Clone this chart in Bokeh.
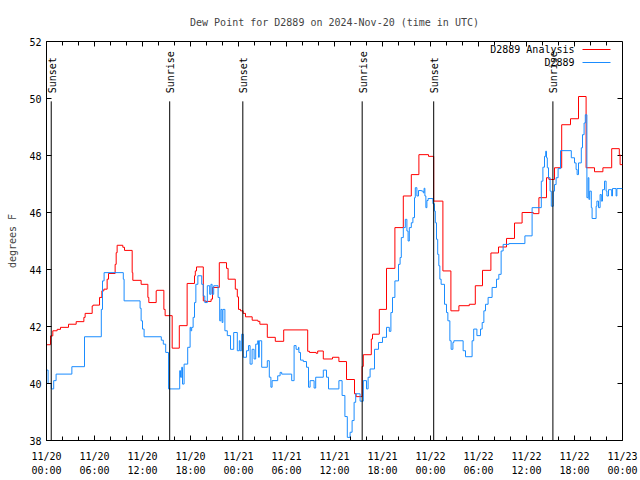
import math
from bokeh.plotting import figure
from bokeh.models import Range1d, FixedTicker, Label, Arrow
from bokeh.embed import file_html
from bokeh.resources import INLINE
from bokeh.core.properties import value

FONT = "DejaVu Sans Mono"

# Hours since 2024-11-20 00:00 UTC (step "after") and dew point values (F)
analysis_hours = [0.0, 0.5, 0.79, 1.33, 1.75, 2.75, 3.71, 4.67, 4.83, 5.71, 5.83, 6.63, 6.92, 7.17,
                  7.58, 7.75, 8.58, 8.71, 8.83, 9.54, 9.75, 10.71, 10.79, 11.83, 12.67, 12.79, 13.71,
                  13.79, 14.67, 14.83, 15.71, 16.6, 17.58, 18.5, 18.6, 18.75, 19.6, 19.875, 20.58,
                  20.75, 21.6, 22.5, 22.7, 23.6, 23.85, 24.0, 24.25, 24.58, 24.875, 25.71, 26.42,
                  26.67, 27.6, 28.6, 29.65, 32.65, 32.875, 33.7, 33.9, 34.6, 35.75, 36.55, 37.5,
                  38.5, 38.7, 39.45, 39.6, 40.6, 40.75, 41.6, 42.5, 43.55, 44.6, 45.6, 46.55, 47.75,
                  48.4, 49.55, 50.55, 51.55, 52.85, 53.6, 54.5, 55.55, 56.5, 57.5, 58.5, 59.45,
                  60.85, 61.55, 62.5, 62.8, 63.5, 64.4, 65.5, 66.5, 67.45, 68.5, 69.55, 70.65,
                  71.6, 71.7]
analysis_values = [41.36, 41.67, 41.85, 41.9, 41.97, 42.08, 42.17, 42.32, 42.46, 42.72, 42.75, 43.02,
                   43.25, 43.31, 43.66, 43.86, 44.18, 44.59, 44.85, 44.78, 44.67, 43.89, 43.62, 43.48,
                   43.02, 42.84, 43.25, 43.27, 42.6, 42.38, 41.24, 42.03, 43.51, 43.78, 43.95, 44.09,
                   42.9, 42.88, 42.96, 43.37, 44.24, 44.04, 43.66, 43.31, 43.04, 42.6, 42.55, 42.46,
                   42.34, 42.22, 42.18, 42.08, 41.62, 41.48, 41.88, 41.13, 41.09, 41.06, 41.14, 40.86,
                   40.92, 40.77, 40.14, 39.64, 39.54, 40.6, 41.01, 41.56, 41.73, 42.6, 44.04, 45.47,
                   46.58, 47.33, 48.03, 47.97, 46.4, 43.95, 42.55, 42.73, 42.78, 43.43, 43.97, 44.58,
                   44.79, 45.09, 45.63, 46.0, 45.96, 46.52, 47.22, 47.16, 47.57, 49.08, 49.29, 50.07,
                   47.57, 47.43, 47.57, 48.24, 48.03, 47.68]

station_hours = [0.0, 0.2, 0.6, 0.9, 1.2, 3.17, 4.75, 6.85, 7.0, 7.2, 9.6, 9.7, 11.7, 11.83, 12.0, 12.2,
                 14.35, 14.6, 14.9, 15.25, 16.65, 16.75, 16.9, 17.0, 17.2, 17.65, 17.95, 18.05, 18.15,
                 18.33, 18.5, 18.67, 18.92, 19.4, 19.6, 19.79, 20.1, 20.4, 20.55, 20.7, 20.9, 21.45,
                 21.65, 21.8, 21.95, 22.05, 22.3, 22.6, 23.0, 23.4, 23.85, 24.1, 24.2, 24.4, 24.6, 25.0,
                 25.25, 25.45, 25.7, 25.95, 26.15, 26.4, 26.5, 26.6, 26.9, 27.6, 27.85, 28.05, 28.2,
                 28.9, 29.2, 29.4, 30.65, 30.95, 31.2, 31.5, 31.55, 31.75, 32.1, 32.5, 32.75, 32.95,
                 33.45, 33.65, 34.6, 35.0, 35.25, 36.55, 36.95, 37.3, 37.6, 37.95, 38.2, 38.45, 38.65,
                 39.2, 39.6, 40.0, 40.2, 40.45, 41.0, 41.5, 42.0, 42.5, 42.85, 43.05, 43.25, 43.55,
                 44.0, 44.2, 44.35, 44.6, 44.85, 45.05, 45.2, 45.35, 45.6, 45.8, 46.0, 46.1, 46.3,
                 46.5, 46.9, 47.1, 47.2, 47.3, 47.42, 47.55, 47.7, 48.3, 48.5, 48.6, 48.75, 48.9,
                 49.04, 49.17, 49.33, 49.75, 50.0, 50.17, 50.42, 50.58, 50.8, 50.92, 52.08, 52.375,
                 53.2, 53.4, 53.8, 54.25, 54.46, 54.67, 54.875, 55.2, 55.7, 56.25, 56.54, 56.83,
                 57.08, 57.8, 59.8, 60.7, 61.85, 62.05, 62.25, 62.4, 62.5, 62.6, 62.75, 62.95, 63.1,
                 63.35, 63.5, 63.7, 63.95, 64.25, 65.6, 66.0, 66.2, 66.33, 66.5, 66.85, 67.0, 67.2,
                 67.35, 67.55, 67.7, 67.8, 67.9, 68.1, 68.2, 68.7, 68.8, 69.0, 69.2, 69.35, 69.5,
                 69.75, 69.95, 70.05, 70.25, 70.65, 70.75, 71.2, 71.3]
station_values = [40.47, 40.0, 39.81, 40.1, 40.33, 40.59, 41.64, 42.6, 43.6, 43.89, 43.66, 42.9, 42.64,
                  42.2, 41.91, 41.64, 41.52, 41.38, 41.09, 39.81, 40.45, 40.22, 40.57, 39.98, 40.68,
                  41.27, 41.97, 41.85, 41.97, 42.32, 42.84, 43.48, 43.78, 43.48, 43.07, 42.84, 43.43,
                  43.13, 43.48, 43.13, 43.43, 43.02, 42.2, 42.6, 42.14, 42.6, 41.85, 41.68, 41.2,
                  41.79, 41.15, 41.5, 41.15, 41.73, 40.92, 41.15, 41.33, 40.68, 41.2, 40.86, 41.38,
                  41.5, 40.92, 41.5, 40.57, 40.8, 40.22, 39.87, 40.1, 40.27, 40.39, 40.33, 40.1,
                  41.33, 41.2, 41.27, 41.09, 40.82, 40.77, 40.57, 39.87, 40.1, 39.84, 40.22, 40.47,
                  40.22, 39.81, 40.1, 39.58, 38.84, 38.11, 38.29, 38.7, 39.34, 39.64, 39.38, 40.1,
                  39.81, 40.22, 40.51, 41.2, 41.44, 41.62, 41.97, 41.83, 42.49, 43.02, 43.6, 44.18,
                  44.42, 45.12, 45.47, 45.76, 45.35, 45.0, 45.47, 45.64, 45.82, 46.52, 46.87, 46.58,
                  46.77, 46.75, 46.69, 46.85, 46.58, 46.17, 46.42, 46.49, 46.31, 46.05, 45.64, 45.06,
                  44.53, 44.13, 43.66, 43.48, 42.78, 42.49, 42.2, 41.5, 41.2, 41.44, 41.5, 41.15,
                  40.94, 41.5, 41.91, 41.68, 41.91, 42.14, 42.55, 42.78, 43.02, 43.37, 43.66, 43.83,
                  44.65, 44.88, 44.91, 45.18, 46.17, 47.1, 47.59, 47.97, 48.15, 47.92, 47.57, 47.22,
                  46.75, 46.22, 46.75, 46.98, 47.22, 47.54, 48.17, 47.92, 47.74, 47.51, 47.33, 47.74,
                  48.27, 48.73, 49.14, 49.43, 46.52, 47.22, 46.46, 46.75, 46.17, 45.79, 46.22, 46.4,
                  46.17, 46.63, 46.4, 46.8, 47.1, 46.75, 46.58, 46.8, 46.58, 46.84, 46.58, 46.84]

sun_hours = [0.59, 15.4, 24.54, 39.46, 48.4, 63.3]
sun_labels = ["Sunset", "Sunrise", "Sunset", "Sunrise", "Sunset", "Sunrise"]

x_tick_hours = [0, 6, 12, 18, 24, 30, 36, 42, 48, 54, 60, 66, 72]
x_tick_labels = ["11/20\n00:00", "11/20\n06:00", "11/20\n12:00", "11/20\n18:00",
                 "11/21\n00:00", "11/21\n06:00", "11/21\n12:00", "11/21\n18:00",
                 "11/22\n00:00", "11/22\n06:00", "11/22\n12:00", "11/22\n18:00",
                 "11/23\n00:00"]
x_minor_hours = [h for h in range(0, 73, 2) if h % 6 != 0]
y_ticks = [38, 40, 42, 44, 46, 48, 50, 52]

title_text = "Dew Point for D2889 on 2024-Nov-20 (time in UTC)"
series_names = ["D2889 Analysis", "D2889"]
series_colors = ["#ff0000", "#1a8cff"]

X_END = 72
Y_MIN, Y_MAX = 38, 52
FRAME_W, FRAME_H = 576, 400
MAJOR_TICK, MINOR_TICK = 5, 4

p = figure(width=640, height=480, output_backend="svg", toolbar_location=None,
           x_range=Range1d(0, X_END), y_range=Range1d(Y_MIN, Y_MAX),
           min_border_left=46, min_border_right=18, min_border_top=40, min_border_bottom=40)
p.grid.visible = False
p.outline_line_color = "black"
p.outline_line_width = 1
p.background_fill_color = "white"
p.border_fill_color = "white"

p.title.text = title_text
p.title.align = "center"
p.title.text_font = FONT
p.title.text_font_size = "10px"
p.title.text_font_style = "normal"
p.title.text_line_height = 1.0
p.title.standoff = 28

xt = FixedTicker(ticks=x_tick_hours, minor_ticks=x_minor_hours)
yt = FixedTicker(ticks=y_ticks)

for ax in p.xaxis:
    ax.ticker = xt
    ax.major_label_overrides = {float(h): l for h, l in zip(x_tick_hours, x_tick_labels)}
    ax.major_label_standoff = 10
    ax.major_label_text_line_height = 1.35
for ax in p.yaxis:
    ax.ticker = yt
    ax.axis_label = "degrees F"
    ax.axis_label_text_font = FONT
    ax.axis_label_text_font_size = "10px"
    ax.axis_label_text_font_style = "normal"
    ax.axis_label_standoff = 8
    ax.major_label_standoff = 5

for ax in list(p.xaxis) + list(p.yaxis):
    ax.major_tick_in = MAJOR_TICK
    ax.major_tick_out = 0
    ax.minor_tick_in = MINOR_TICK
    ax.minor_tick_out = 0
    ax.major_label_text_font = FONT
    ax.major_label_text_font_size = "10px"
    ax.major_label_text_color = "black"
    ax.axis_line_color = "black"

# mirrored ticks on the right and top edges of the frame
dx = MAJOR_TICK * X_END / FRAME_W
dy_major = MAJOR_TICK * (Y_MAX - Y_MIN) / FRAME_H
dy_minor = MINOR_TICK * (Y_MAX - Y_MIN) / FRAME_H
p.segment(x0=[X_END] * len(y_ticks), y0=y_ticks, x1=[X_END - dx] * len(y_ticks), y1=y_ticks,
          line_color="black", line_width=1)
p.segment(x0=x_tick_hours, y0=[Y_MAX] * len(x_tick_hours), x1=x_tick_hours,
          y1=[Y_MAX - dy_major] * len(x_tick_hours), line_color="black", line_width=1)
p.segment(x0=x_minor_hours, y0=[Y_MAX] * len(x_minor_hours), x1=x_minor_hours,
          y1=[Y_MAX - dy_minor] * len(x_minor_hours), line_color="black", line_width=1)

# data
p.step(analysis_hours + [X_END], analysis_values + [analysis_values[-1]], mode="after",
       line_color=series_colors[0], line_width=1)
p.step(station_hours + [X_END], station_values + [station_values[-1]], mode="after",
       line_color=series_colors[1], line_width=1)

# sunrise / sunset markers
line_top = Y_MIN + 0.85 * (Y_MAX - Y_MIN)
label_bottom = Y_MIN + 0.87 * (Y_MAX - Y_MIN)
p.segment(x0=sun_hours, y0=[Y_MIN] * len(sun_hours), x1=sun_hours, y1=[line_top] * len(sun_hours),
          line_color="black", line_width=1)
p.text(x=sun_hours, y=[label_bottom] * len(sun_hours), text=sun_labels, angle=math.pi / 2,
       text_align="left", text_baseline="middle", text_font=value(FONT), text_font_size="10px",
       x_offset=1, text_color="black")

# legend (gnuplot style: label then sample), in frame pixel units
for i, (name, col) in enumerate(zip(series_names, series_colors)):
    yy = FRAME_H - 9 - 13 * i
    p.add_layout(Label(x=528, y=yy, x_units="screen", y_units="screen", text=name,
                       text_align="right", text_baseline="middle", text_font=FONT,
                       text_font_size="10px", text_color="black"))
    p.add_layout(Arrow(end=None, x_start=536, y_start=yy, x_end=564, y_end=yy,
                       start_units="screen", end_units="screen", line_color=col, line_width=1))

open("out.html", "w").write(file_html(p, INLINE))
